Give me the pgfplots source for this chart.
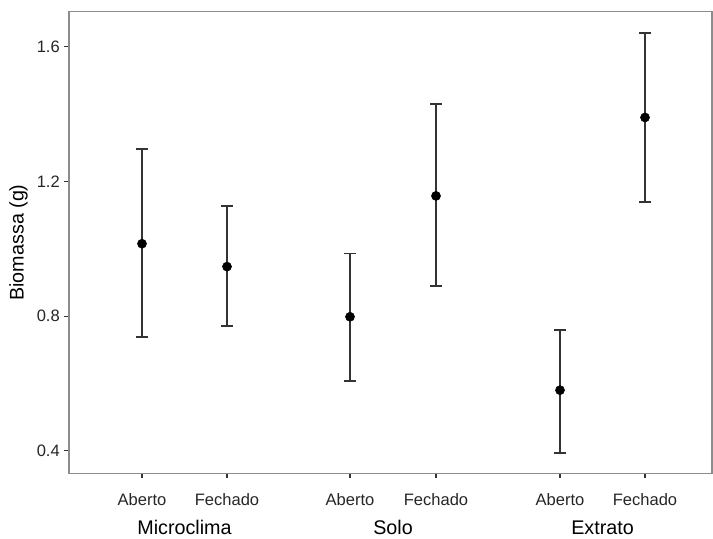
\documentclass[border=0pt]{standalone}
\usepackage{pgfplots}
\pgfplotsset{compat=1.18}
\usepackage{pgfplotstable}
\usepackage{fontspec}
\setmainfont{Liberation Sans}
\usetikzlibrary{calc}
\definecolor{bordergray}{HTML}{8C8C8C}
\definecolor{linegray}{HTML}{333333}
\pgfplotstableread{
x y ep em
142 1.015 0.281 0.277
227 0.947 0.180 0.177
350 0.798 0.188 0.190
436 1.157 0.273 0.268
560 0.580 0.179 0.186
645 1.390 0.250 0.251
}\biomassa
\begin{document}
\begin{tikzpicture}
\begin{axis}[
  scale only axis,
  width=482.25pt, height=346.2pt,
  xmin=69, xmax=712, ymin=0.333, ymax=1.704,
  axis line style={bordergray, line width=0.8pt},
  tick align=outside,
  major tick length=3.4pt,
  tick style={linegray, line width=0.8pt},
  xtick={142,227,350,436,560,645},
  xticklabels={Aberto,Fechado,Aberto,Fechado,Aberto,Fechado},
  ytick={0.4,0.8,1.2,1.6},
  yticklabels={0.4,0.8,1.2,1.6},
  xtick pos=bottom, ytick pos=left,
  ticklabel style={font=\fontsize{12.4}{14}\selectfont, text=black!85},
  xticklabel style={anchor=base, yshift=-20.9pt},
  clip=false,
]
\addplot[only marks, mark=*, mark size=3.4pt, black,
  error bars/.cd, y dir=both, y explicit,
  error bar style={linegray, line width=1.2pt},
  error mark options={rotate=90, linegray, line width=1.2pt, mark size=4.5pt}]
  table[x=x, y=y, y error plus=ep, y error minus=em] {\biomassa};
\node[anchor=base, font=\fontsize{14.8}{17}\selectfont, yshift=-45.5pt] at (axis cs:184.5,0.333) {Microclima};
\node[anchor=base, font=\fontsize{14.8}{17}\selectfont, yshift=-45.5pt] at (axis cs:393,0.333) {Solo};
\node[anchor=base, font=\fontsize{14.8}{17}\selectfont, yshift=-45.5pt] at (axis cs:602.5,0.333) {Extrato};
\node[rotate=90, anchor=center, font=\fontsize{14.8}{17}\selectfont] at ($(rel axis cs:0,0.5)+(-37.9pt,0pt)$) {Biomassa (g)};
\end{axis}
\path ($(current axis.south west)+(-51.75pt,-47.8pt)$) rectangle ($(current axis.north east)+(0.75pt,8.8pt)$);
\end{tikzpicture}
\end{document}
